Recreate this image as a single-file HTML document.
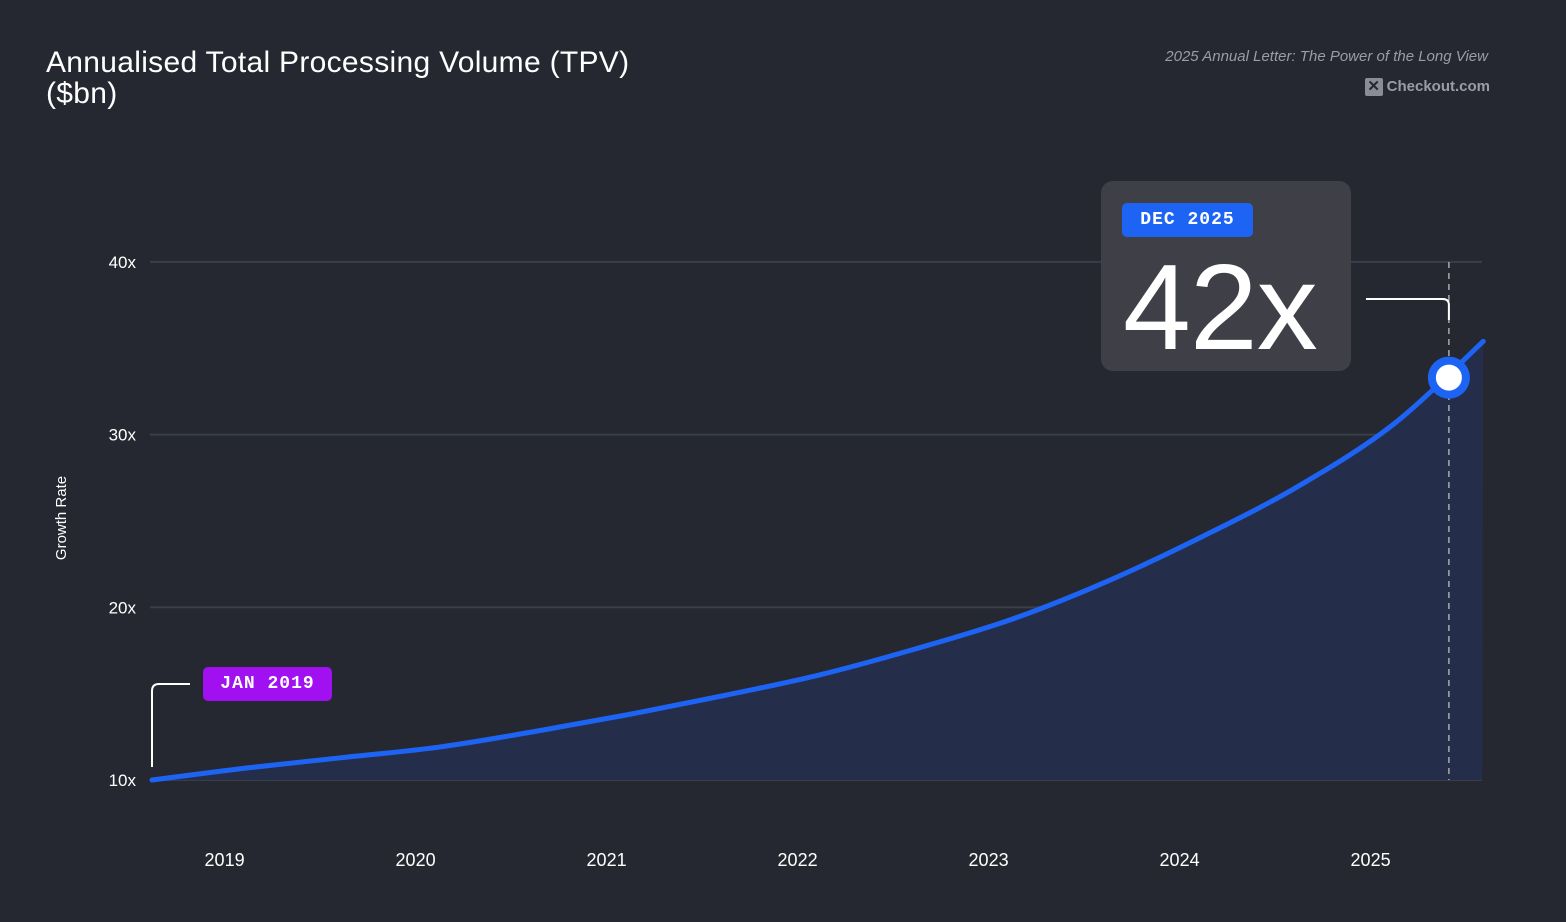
<!DOCTYPE html>
<html><head><meta charset="utf-8"><style>
html,body{margin:0;padding:0;background:#252830;}
body{width:1566px;height:922px;position:relative;overflow:hidden;font-family:"Liberation Sans",sans-serif;}
.t{position:absolute;color:#fff;}
</style></head><body>
<div class="t" style="left:46px;top:47px;font-size:30px;line-height:31px;letter-spacing:0.3px;">Annualised Total Processing Volume (TPV)<br>($bn)</div>
<div class="t" style="right:78px;top:48px;font-size:15px;font-style:italic;color:#9a9da6;">2025 Annual Letter: The Power of the Long View</div>
<div class="t" style="right:76px;top:78px;font-size:15px;color:#9a9da6;font-weight:bold;"><span style="display:inline-block;width:18px;height:18px;background:#8a8d96;color:#252830;text-align:center;line-height:18px;border-radius:2px;margin-right:4px;">✕</span>Checkout.com</div>
<svg id="c" width="1566" height="922" style="position:absolute;left:0;top:0"></svg>
<script>
const yTicks=[10,20,30,40];
const yLabels=["10x","20x","30x","40x"];
const xTickYears=[2019,2020,2021,2022,2023,2024,2025];
const times=[2019.0,2019.5,2020.0,2020.5,2021.0,2021.5,2022.0,2022.5,2023.0,2023.5,2024.0,2024.5,2025.0,2025.5,2025.97];
const values=[10,10.7,11.3,11.9,12.8,13.8,14.9,16.1,17.6,19.3,21.5,24.1,27.0,30.6,35.4];
const highlightT=2025.79, highlightV=33.3;
const x=t=>152+(t-2019)*191;
const y=v=>780-(v-10)*17.27;
const svg=document.getElementById('c');const NS='http://www.w3.org/2000/svg';
function mk(tag,a,p){const e=document.createElementNS(NS,tag);for(const k in a)e.setAttribute(k,a[k]);(p||svg).appendChild(e);return e;}
yTicks.forEach((v,i)=>{
 const l=mk('line',{x1:150,x2:1482,y1:y(v),y2:y(v),stroke:'#3a3e48','stroke-width':2});
 
 
 const t=mk('text',{x:136,y:y(v)+6,'text-anchor':'end',fill:'#fff','font-size':17,'font-family':'Liberation Sans'});t.textContent=yLabels[i];
 
 
});
xTickYears.forEach(yr=>{
 const t=mk('text',{x:x(yr+0.38),y:866,'text-anchor':'middle',fill:'#fff','font-size':18,'font-family':'Liberation Sans'});t.textContent=yr;
 
 
});
const yt=mk('text',{transform:'translate(66,518) rotate(-90)','text-anchor':'middle',fill:'#fff','font-size':15,'font-family':'Liberation Sans'});yt.textContent='Growth Rate';


const P=times.map((t,i)=>[x(t),y(values[i])]);
let d='M'+P[0][0]+','+P[0][1];
for(let i=0;i<P.length-1;i++){const p0=P[i-1]||P[i],p1=P[i],p2=P[i+1],p3=P[i+2]||p2;
 d+=` C${p1[0]+(p2[0]-p0[0])/6},${p1[1]+(p2[1]-p0[1])/6} ${p2[0]-(p3[0]-p1[0])/6},${p2[1]-(p3[1]-p1[1])/6} ${p2[0]},${p2[1]}`;}
const area=mk('path',{d:d+` L${P[P.length-1][0]-1},780 L${P[0][0]},780 Z`,fill:'#242e4a'});


const line=mk('path',{d:d,fill:'none',stroke:'#1d64f5','stroke-width':5,'stroke-linecap':'round'});


const hx=x(highlightT),hy=y(highlightV);
const dl=mk('line',{x1:hx,x2:hx,y1:262,y2:780,stroke:'#aaa','stroke-width':1.5,'stroke-dasharray':'6,5'});


const con=mk('path',{d:`M1366,299 L${hx-6},299 Q${hx},299 ${hx},305 L${hx},320`,fill:'none',stroke:'#fff','stroke-width':2});


const dot=mk('circle',{cx:hx,cy:hy,r:17,fill:'#fff',stroke:'#1d64f5','stroke-width':8});


const sc=mk('path',{d:'M152,767 L152,691 Q152,684 159,684 L190,684',fill:'none',stroke:'#fff','stroke-width':2});


</script>
<div style="position:absolute;left:203px;top:667px;width:129px;height:34px;background:#a010f0;border-radius:5px;color:#fff;font-family:'Liberation Mono',monospace;font-weight:bold;font-size:18px;line-height:34px;text-align:center;letter-spacing:1px;">JAN 2019</div>
<div style="position:absolute;left:1101px;top:181px;width:250px;height:190px;background:#3f4047;border-radius:12px;">
<div style="position:absolute;left:21px;top:22px;width:131px;height:34px;background:#1d64f5;border-radius:5px;color:#fff;font-family:'Liberation Mono',monospace;font-weight:bold;font-size:18px;line-height:34px;text-align:center;letter-spacing:1px;">DEC 2025</div>
<div style="position:absolute;left:22px;top:66px;color:#fff;font-size:122px;line-height:120px;letter-spacing:-1px;">42x</div>
</div>
</body></html>
